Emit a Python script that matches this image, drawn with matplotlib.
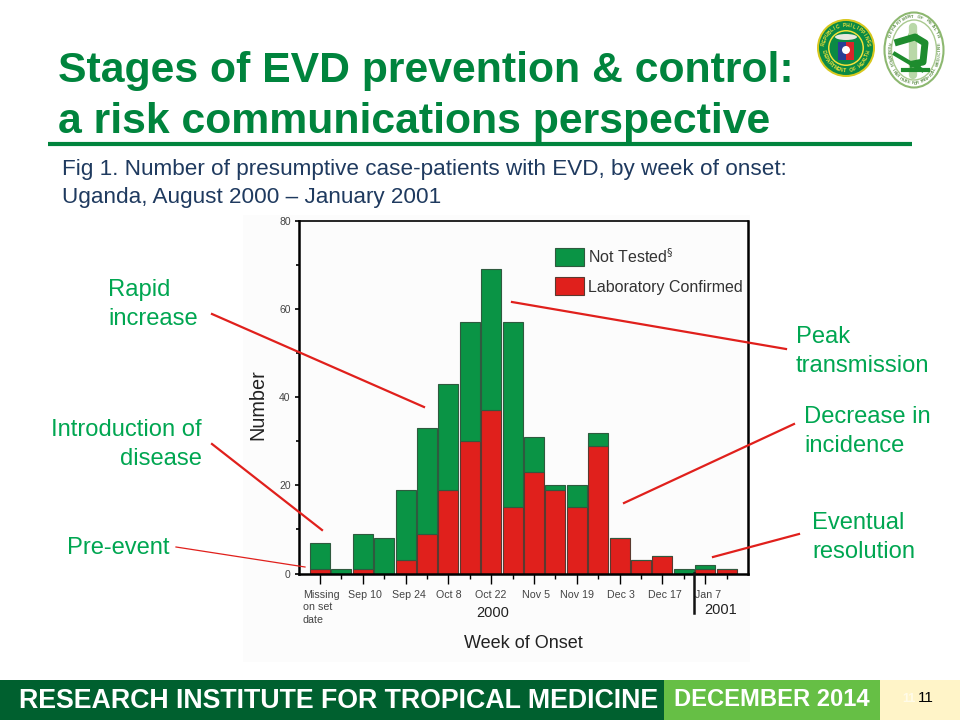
import matplotlib
matplotlib.use('Agg')
import matplotlib.pyplot as plt
import matplotlib.patches as mpatches
from matplotlib.transforms import ScaledTranslation
import numpy as np

plt.rcParams['font.family'] = ['Liberation Sans', 'DejaVu Sans']

# chart data ################################################################
week_labels = ['Missing\non set\ndate', 'Sep 10', 'Sep 24', 'Oct 8', 'Oct 22',
               'Nov 5', 'Nov 19', 'Dec 3', 'Dec 17', 'Jan 7']
lab_confirmed = [1, 0, 1, 0, 3, 9, 19, 30, 37, 15, 23, 19, 15, 29, 8, 3, 4, 0, 1, 1]
not_tested = [6, 1, 8, 8, 16, 24, 24, 27, 32, 42, 8, 1, 5, 3, 0, 0, 0, 1, 1, 0]
y_ticks = [0, 20, 40, 60, 80]

GREEN = '#0a9445'
RED = '#e0201c'
TEXT_GREEN = '#00a651'
TITLE_GREEN = '#00843d'
NAVY = '#1f3a5f'

fig = plt.figure(figsize=(9.6, 7.2), dpi=100, facecolor='w')


# letters round a seal, angles in degrees, y axis pointing down
def arc_text(ax, cx, cy, rx, ry, text, start, stop, color, size, inward=False):
    for ang, ch in zip(np.linspace(start, stop, len(text)), text):
        a = np.radians(ang)
        rot = -ang + 90 if inward else -ang - 90
        ax.text(cx + rx * np.cos(a), cy + ry * np.sin(a), ch, color=color, fontsize=size,
                fontweight='bold', rotation=rot, ha='center', va='center')


# slide layer in pixel coordinates ##########################################
bg = fig.add_axes([0, 0, 1, 1], zorder=0)
bg.set_xlim(0, 960)
bg.set_ylim(720, 0)
bg.axis('off')

bg.add_patch(mpatches.Rectangle((243, 215), 507, 447, color='#fcfcfc', lw=0))
bg.plot([48, 912], [144, 144], color=TITLE_GREEN, lw=3, solid_capstyle='butt')
bg.text(58, 71, 'Stages of EVD prevention & control:', color=TITLE_GREEN, fontsize=30.8,
        fontweight='bold', ha='left', va='center')
bg.text(58, 122, 'a risk communications perspective', color=TITLE_GREEN, fontsize=30.8,
        fontweight='bold', ha='left', va='center')
bg.text(62, 170, 'Fig 1. Number of presumptive case-patients with EVD, by week of onset:',
        color=NAVY, fontsize=16.2, ha='left', va='center')
bg.text(62, 197, 'Uganda, August 2000 \u2013 January 2001', color=NAVY, fontsize=16.2,
        ha='left', va='center')

# footer
bg.add_patch(mpatches.Rectangle((0, 680), 664, 40, color='#00602f', lw=0))
bg.add_patch(mpatches.Rectangle((664, 680), 216, 40, color='#66bf45', lw=0))
bg.add_patch(mpatches.Rectangle((880, 680), 80, 40, color='#fff4c8', lw=0))
bg.text(19, 701, 'RESEARCH INSTITUTE FOR TROPICAL MEDICINE', color='w', fontsize=19.3,
        fontweight='bold', ha='left', va='center')
bg.text(772, 699, 'DECEMBER 2014', color='w', fontsize=17.1, fontweight='bold',
        ha='center', va='center')
bg.text(909, 699, '11', color='#fffbe8', fontsize=9, fontweight='bold', ha='center', va='center')
bg.text(926, 698, '11', color='k', fontsize=11, ha='center', va='center')

# DOH seal
bg.add_patch(mpatches.Circle((846, 48), 29, fc='#d8c81e', ec='none'))
bg.add_patch(mpatches.Circle((846, 48), 27, fc='#0a8a45', ec='none'))
bg.add_patch(mpatches.Circle((846, 48), 18, fc='#f4e23a', ec='none'))
bg.add_patch(mpatches.Circle((846, 48), 16.5, fc='#0a8a45', ec='none'))
bg.add_patch(mpatches.Rectangle((838, 42), 8, 18, fc='#2a3f95', ec='none'))
bg.add_patch(mpatches.Rectangle((846, 42), 8, 18, fc='#d8252a', ec='none'))
bg.add_patch(mpatches.Circle((846, 50), 4, fc='w', ec='none'))
bg.add_patch(mpatches.Ellipse((846, 37), 22, 6, fc='#e8e8e0', ec='none'))
arc_text(bg, 846, 48, 22.5, 22.5, 'REPUBLIC PHILIPPINES', 190, 350, '#f4e23a', 3.6)
arc_text(bg, 846, 48, 22.5, 22.5, 'DEPARTMENT OF HEALTH', 170, 10, '#f4e23a', 3.6, inward=True)

# RITM seal
bg.add_patch(mpatches.Ellipse((914, 50), 59, 75, fc='w', ec='#8db870', lw=1.5))
bg.add_patch(mpatches.Ellipse((914, 50), 45, 60, fc='w', ec='#a9c98f', lw=1))
bg.plot([913, 913], [27, 75], color='#b9d8a8', lw=6, solid_capstyle='round')
bg.plot([898, 915, 925, 923, 913], [42, 37, 43, 62, 64], color='#1e8c2e', lw=5)
bg.plot([895, 922], [54, 70], color='#1e8c2e', lw=3)
bg.plot([903, 928], [70, 70], color='#1e8c2e', lw=3)
bg.add_patch(mpatches.Circle((913, 36), 5, fc='#7cc96a', ec='none'))
bg.add_patch(mpatches.Circle((916, 65), 5, fc='#1e8c2e', ec='none'))
arc_text(bg, 914, 50, 26, 33.5, 'DEPARTMENT OF HEALTH', 205, 335, '#5f8f48', 3.2)
arc_text(bg, 914, 50, 26, 33.5, 'RESEARCH INSTITUTE FOR TROPICAL MEDICINE', 190, -10, '#5f8f48', 3.2, inward=True)

# the chart #################################################################
ax = fig.add_axes([299 / 960, 1 - 573.5 / 720, 449 / 960, 352.5 / 720], zorder=1)
ax.patch.set_alpha(0)

weeks = np.arange(len(lab_confirmed))
ax.bar(weeks, lab_confirmed, width=0.93, color=RED, edgecolor='#5a3a30', linewidth=0.8,
       label='Laboratory Confirmed')
ax.bar(weeks, not_tested, width=0.93, bottom=lab_confirmed, color=GREEN, edgecolor='#2f5a3f',
       linewidth=0.8, label='Not Tested$^{\\S}$')
ax.set_xlim(-0.98, 20.0)
ax.set_ylim(0, 80)

ax.set_yticks(y_ticks)
ax.set_yticks([10, 30, 50, 70], minor=True)
ax.tick_params(axis='y', which='major', direction='out', length=3, width=1.2, labelsize=7.5,
               labelcolor='#444444', pad=3)
ax.tick_params(axis='y', which='minor', direction='out', length=2, width=1.2)

ax.set_xticks(weeks[::2])
ax.set_xticks(weeks[1::2], minor=True)
ax.set_xticklabels(week_labels)
ax.tick_params(axis='x', which='major', direction='out', length=7.2, width=1, labelsize=7.7,
               labelcolor='#444444', pad=4.5)
ax.tick_params(axis='x', which='minor', direction='out', length=3.6, width=1)

# labels do not sit quite under their ticks in the original (offsets in pixels)
label_shift = [-17, 2, 3.5, 0, 0, 2, 0, 1, 2, 3]
for lab, dx in zip(ax.get_xticklabels(), label_shift):
    lab.set_transform(lab.get_transform() + ScaledTranslation(dx / 100, 0, fig.dpi_scale_trans))
ax.get_xticklabels()[0].set_ha('left')
ax.get_xticklabels()[0].set_linespacing(1.3)

ax.spines['left'].set_linewidth(1.8)
ax.spines['bottom'].set_linewidth(1.8)
ax.spines['right'].set_linewidth(1.8)
ax.spines['top'].set_linewidth(1.2)

ax.set_ylabel('Number', fontsize=14.3, color='#222222')
ax.yaxis.set_label_coords(-0.07, 0.48)

handles, labels = ax.get_legend_handles_labels()
ax.legend(handles[::-1], labels[::-1], loc='upper left', bbox_to_anchor=(0.57, 0.926), frameon=False,
          fontsize=11.5, labelcolor='#333333', handlelength=1.8, handleheight=1.35, labelspacing=0.68,
          handletextpad=0.3, borderpad=0, borderaxespad=0)

# overlay: year labels, callouts ############################################
top = fig.add_axes([0, 0, 1, 1], zorder=2)
top.set_xlim(0, 960)
top.set_ylim(720, 0)
top.axis('off')

top.plot([694, 694], [573, 613], color='#111111', lw=1.8)
top.text(493, 613, '2000', fontsize=10.5, color='#222222', ha='center', va='center')
top.text(721, 610, '2001', fontsize=10.5, color='#222222', ha='center', va='center')
top.text(523, 643, 'Week of Onset', fontsize=13, color='#222222', ha='center', va='center')

top.plot([212, 424], [314, 407], color=RED, lw=1.6)
top.plot([512, 786], [302, 349], color=RED, lw=1.6)
top.plot([212, 322], [444, 530], color=RED, lw=1.6)
top.plot([176, 305], [547, 567], color=RED, lw=0.9)
top.plot([624, 794], [503, 424], color=RED, lw=1.6)
top.plot([713, 799], [557, 534], color=RED, lw=1.6)

top.text(108, 304.5, 'Rapid\nincrease', color=TEXT_GREEN, fontsize=17.1, ha='left', va='center', linespacing=1.4)
top.text(202, 444.5, 'Introduction of\ndisease', color=TEXT_GREEN, fontsize=17.1, ha='right', va='center', linespacing=1.4)
top.text(67, 548, 'Pre-event', color=TEXT_GREEN, fontsize=17.1, ha='left', va='center')
top.text(796, 351.5, 'Peak\ntransmission', color=TEXT_GREEN, fontsize=17.1, ha='left', va='center', linespacing=1.4)
top.text(804, 431.5, 'Decrease in\nincidence', color=TEXT_GREEN, fontsize=17.1, ha='left', va='center', linespacing=1.4)
top.text(812, 537.5, 'Eventual\nresolution', color=TEXT_GREEN, fontsize=17.1, ha='left', va='center', linespacing=1.4)

fig.savefig('out.png', dpi=100)
